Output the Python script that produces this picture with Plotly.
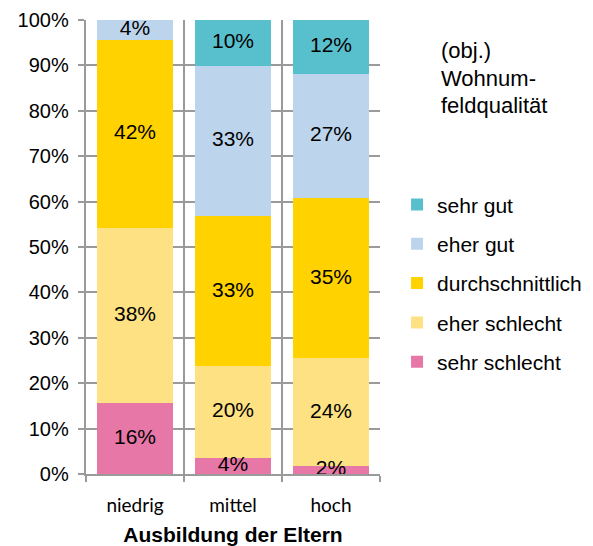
import plotly.graph_objects as go

categories = ["niedrig", "mittel", "hoch"]

series_names = ["sehr schlecht", "eher schlecht", "durchschnittlich", "eher gut", "sehr gut"]
sehr_schlecht = [15.7, 3.6, 1.7]
eher_schlecht = [38.4, 20.1, 23.8]
durchschnittlich = [41.6, 33.1, 35.2]
eher_gut = [4.3, 33.0, 27.4]
sehr_gut = [0.0, 10.2, 11.9]

legend_title_lines = ["(obj.)", "Wohnum-", "feldqualität"]

colors = ["#E777A6", "#FDE182", "#FFD200", "#BDD5EC", "#58BFCC"]
all_series = [sehr_schlecht, eher_schlecht, durchschnittlich, eher_gut, sehr_gut]

fig = go.Figure()
for i, (name, vals, col) in enumerate(zip(series_names, all_series, colors)):
    fig.add_trace(go.Bar(
        x=categories, y=vals, name=name, legendgroup=name,
        legendrank=len(series_names) - i,
        marker=dict(color=col, line=dict(width=0)),
        hoverinfo="skip",
    ))

# value labels on top of all bars, at the middle of each segment
base = [0.0] * len(categories)
lx, ly, lt = [], [], []
for vals in all_series:
    for j, v in enumerate(vals):
        if v > 0:
            lx.append(categories[j])
            ly.append(base[j] + v / 2)
            lt.append(f"{v:.0f}%")
        base[j] += v
fig.add_trace(go.Scatter(
    x=lx, y=ly, text=lt, mode="text", textposition="middle center",
    textfont=dict(family="Liberation Sans, Arial", size=21, color="#000000"),
    showlegend=False, hoverinfo="skip", cliponaxis=False,
))

grid = "#9A9A9A"
# the page body has an 8px margin, so the figure is made 8px smaller
fig.update_layout(
    width=585, height=538,
    barmode="stack", bargap=0.23,
    plot_bgcolor="white", paper_bgcolor="white",
    margin=dict(l=78, r=213, t=12, b=72, autoexpand=False),
    font=dict(family="Liberation Sans, Arial", color="#000000"),
    showlegend=True,
    legend=dict(
        traceorder="grouped", tracegroupgap=9,
        x=1.058, xanchor="left", y=0.638, yanchor="top",
        font=dict(size=21), bgcolor="rgba(0,0,0,0)",
    ),
    xaxis=dict(
        type="category", tickson="boundaries", automargin=False,
        showgrid=True, gridcolor=grid, gridwidth=1.5,
        showline=True, linecolor=grid, linewidth=1.5,
        ticks="outside", ticklen=6, tickcolor=grid, tickwidth=1.5,
        tickfont=dict(family="Lato", size=19), ticklabelstandoff=13,
        title=dict(text="<b>Ausbildung der Eltern</b>", font=dict(size=21), standoff=13),
    ),
    yaxis=dict(
        range=[0, 100], dtick=10, ticksuffix="%\u00a0", automargin=False,
        showgrid=True, gridcolor=grid, gridwidth=1.5,
        showline=True, linecolor=grid, linewidth=1.5,
        ticks="outside", ticklen=6, tickcolor=grid, tickwidth=1.5,
        tickfont=dict(size=20),
        zeroline=False,
    ),
    annotations=[dict(
        text=line, xref="paper", yref="paper", x=1.202, y=yy,
        xanchor="left", yanchor="middle", align="left",
        showarrow=False, font=dict(size=22),
    ) for line, yy in zip(legend_title_lines, [0.933, 0.871, 0.812])],
)

fig.write_html("out.html")
